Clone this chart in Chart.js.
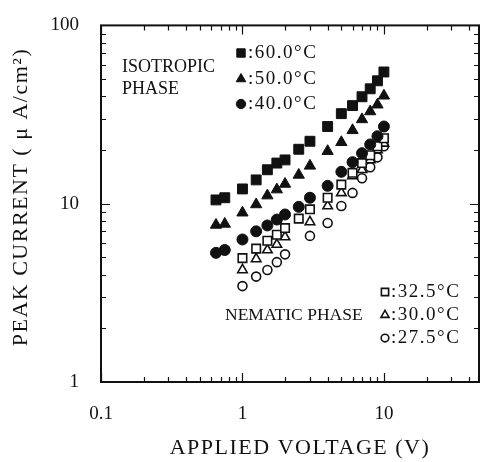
<!DOCTYPE html>
<html>
<head>
<meta charset="utf-8">
<script src="https://cdn.jsdelivr.net/npm/chart.js@4.4.0/dist/chart.umd.min.js"></script>
<style>
  html, body { margin: 0; padding: 0; background: #fff; }
</style>
</head>
<body>
<canvas id="myChart" width="487" height="462"></canvas>
<script>
// Voltages (V) used for the isotropic runs
const isoVoltage = [0.65, 0.75, 1, 1.25, 1.5, 1.75, 2, 2.5, 3, 4, 5, 6, 7, 8, 9, 10];
// Peak current (uA/cm2), isotropic phase
const current60 = [10.5, 10.8, 12.1, 13.6, 15.5, 16.9, 17.6, 20.2, 22.4, 27.1, 32.0, 35.5, 39.8, 44.1, 48.9, 54.8];
const current50 = [7.6, 7.7, 8.9, 9.9, 11.1, 12.0, 12.9, 14.5, 16.3, 19.7, 22.1, 25.8, 29.7, 32.9, 35.9, 40.3];
const current40 = [5.3, 5.5, 6.3, 7.0, 7.55, 8.15, 8.7, 9.6, 10.8, 12.6, 15.1, 17.1, 19.2, 21.5, 23.9, 27.1];

// Nematic phase runs
const voltage325 = [1, 1.25, 1.5, 1.75, 2, 2.5, 3, 4, 5, 6, 7, 8, 9, 10];
const current325 = [4.95, 5.6, 6.2, 6.7, 7.3, 8.25, 9.3, 10.8, 12.8, 14.9, 16.9, 18.7, 21.0, 23.3];
const voltageNem = [1, 1.25, 1.5, 1.75, 2, 3, 4, 5, 6, 7, 8, 9, 10];
const current300 = [4.25, 4.9, 5.5, 5.9, 6.5, 7.9, 9.7, 11.5, 14.3, 15.5, 17.6, 20.0, 21.8];
const current275 = [3.45, 3.9, 4.25, 4.7, 5.2, 6.6, 7.8, 9.7, 11.5, 13.9, 16.0, 18.2, 21.0];

// Axis tick labels
const xTickValues = [0.1, 1, 10];
const xTickLabels = ['0.1', '1', '10'];
const yTickValues = [1, 10, 100];
const yTickLabels = ['1', '10', '100'];

// Legend labels
const isoLabels = [':60.0\u00b0C', ':50.0\u00b0C', ':40.0\u00b0C'];
const nemLabels = [':32.5\u00b0C', ':30.0\u00b0C', ':27.5\u00b0C'];

const ink = '#111';
const serif = '"Liberation Serif", "DejaVu Serif", serif';

function toPoints(xs, ys) {
  return xs.map((v, i) => ({ x: v, y: ys[i] }));
}

function series(xs, ys, style, radius, filled) {
  return {
    data: toPoints(xs, ys),
    showLine: false,
    pointStyle: style,
    pointRadius: radius,
    pointBorderColor: ink,
    pointBackgroundColor: filled ? ink : '#fff',
    pointBorderWidth: filled ? 1 : 1.6
  };
}

// Draws the frame, inward tick marks, titles and the text notes
const decor = {
  id: 'decor',
  afterDraw(chart) {
    const { ctx, chartArea: a, scales: { x, y } } = chart;
    ctx.save();
    ctx.strokeStyle = ink;
    ctx.lineWidth = 2;
    ctx.strokeRect(a.left, a.top, a.right - a.left, a.bottom - a.top);

    ctx.lineWidth = 1.2;
    ctx.beginPath();
    // x ticks, bottom and top
    for (let d = 0.1; d < 100; d *= 10) {
      for (let m = 1; m <= 9; m++) {
        const v = d * m;
        if (v < x.min || v > x.max) continue;
        const px = Math.round(x.getPixelForValue(v)) + 0.5;
        const len = m === 1 ? 9 : 5;
        ctx.moveTo(px, a.bottom); ctx.lineTo(px, a.bottom - len);
        ctx.moveTo(px, a.top); ctx.lineTo(px, a.top + len);
      }
    }
    // y ticks, left and right
    for (let d = 1; d < 1000; d *= 10) {
      for (let m = 1; m <= 9; m++) {
        const v = d * m;
        if (v < y.min || v > y.max) continue;
        const py = Math.round(y.getPixelForValue(v)) + 0.5;
        const len = m === 1 ? 9 : 5;
        ctx.moveTo(a.left, py); ctx.lineTo(a.left + len, py);
        ctx.moveTo(a.right, py); ctx.lineTo(a.right - len, py);
      }
    }
    ctx.stroke();

    ctx.fillStyle = ink;
    ctx.textBaseline = 'middle';

    // axis titles
    ctx.font = '22px ' + serif;
    ctx.letterSpacing = '1.5px';
    ctx.textAlign = 'center';
    ctx.fillText('APPLIED VOLTAGE (V)', 300, 448);
    ctx.save();
    ctx.translate(21, 197);
    ctx.rotate(-Math.PI / 2);
    ctx.fillText('PEAK CURRENT ( \u03bc A/cm\u00b2)', 0, 0);
    ctx.restore();

    // notes inside the plot
    ctx.textAlign = 'left';
    ctx.font = '18px ' + serif;
    ctx.letterSpacing = '0px';
    ctx.fillText('ISOTROPIC', 122, 67);
    ctx.fillText('PHASE', 122, 89);
    ctx.font = '17.5px ' + serif;
    ctx.fillText('NEMATIC PHASE', 225, 315);

    // legend: marker drawn with the same point styles as the datasets
    const ds = chart.data.datasets;
    const isoRows = [53, 79, 104];
    const nemRows = [292, 315, 338];
    ctx.font = '19px ' + serif;
    ctx.letterSpacing = '1.5px';
    isoLabels.forEach((t, i) => {
      const d = ds[i];
      ctx.fillStyle = d.pointBackgroundColor;
      ctx.strokeStyle = d.pointBorderColor;
      ctx.lineWidth = d.pointBorderWidth;
      Chart.helpers.drawPoint(ctx, { pointStyle: d.pointStyle, radius: d.pointRadius * 0.85, rotation: 0, borderWidth: d.pointBorderWidth }, 241, isoRows[i]);
      ctx.fillStyle = ink;
      ctx.fillText(t, 248, isoRows[i]);
    });
    nemLabels.forEach((t, i) => {
      const d = ds[i + 3];
      ctx.fillStyle = d.pointBackgroundColor;
      ctx.strokeStyle = d.pointBorderColor;
      ctx.lineWidth = d.pointBorderWidth;
      Chart.helpers.drawPoint(ctx, { pointStyle: d.pointStyle, radius: d.pointRadius * 0.85, rotation: 0, borderWidth: d.pointBorderWidth }, 385, nemRows[i]);
      ctx.fillStyle = ink;
      ctx.fillText(t, 391, nemRows[i]);
    });
    ctx.restore();
  }
};

let ctx = document.getElementById('myChart').getContext('2d');
let myChart = new Chart(ctx, {
  type: 'scatter',
  data: {
    datasets: [
      series(isoVoltage, current60, 'rect', 7, true),
      series(isoVoltage, current50, 'triangle', 6.5, true),
      series(isoVoltage, current40, 'circle', 5.5, true),
      series(voltage325, current325, 'rect', 6, false),
      series(voltageNem, current300, 'triangle', 5.5, false),
      series(voltageNem, current275, 'circle', 4.5, false)
    ]
  },
  options: {
    responsive: false,
    animation: false,
    devicePixelRatio: 1,
    layout: { padding: { top: 21, right: 4, left: 0, bottom: 0 } },
    plugins: {
      legend: { display: false },
      tooltip: { enabled: false }
    },
    scales: {
      x: {
        type: 'logarithmic',
        min: 0.1,
        max: 47,
        grid: { display: false },
        border: { display: false },
        afterBuildTicks: s => { s.ticks = xTickValues.map(v => ({ value: v })); },
        afterFit: s => { s.height = 80; },
        ticks: {
          autoSkip: false,
          maxRotation: 0,
          padding: 13,
          color: ink,
          font: { family: serif, size: 19 },
          callback: (v, i) => xTickLabels[i]
        }
      },
      y: {
        type: 'logarithmic',
        min: 1,
        max: 100,
        grid: { display: false },
        border: { display: false },
        afterBuildTicks: s => { s.ticks = yTickValues.map(v => ({ value: v })); },
        afterFit: s => { s.width = 101; },
        ticks: {
          autoSkip: false,
          padding: 14,
          color: ink,
          font: { family: serif, size: 19 },
          callback: (v, i) => yTickLabels[i]
        }
      }
    }
  },
  plugins: [decor]
});
</script>
</body>
</html>
